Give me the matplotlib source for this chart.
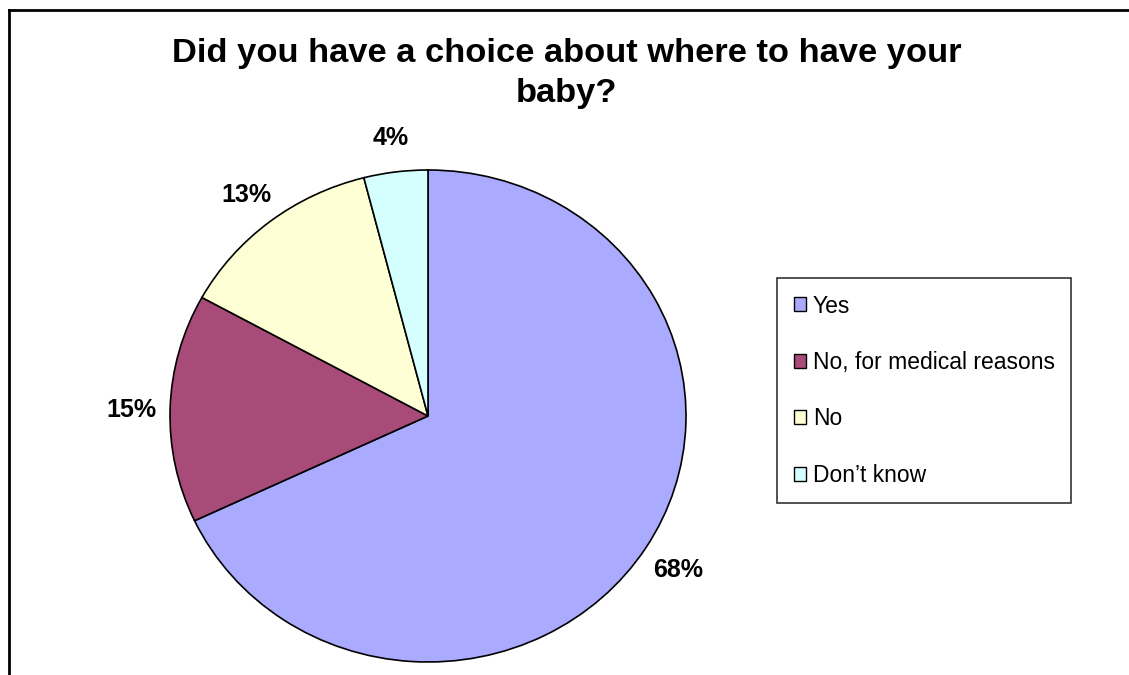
import matplotlib
matplotlib.use("Agg")
import matplotlib.pyplot as plt
from matplotlib.lines import Line2D
from matplotlib.patches import Rectangle

plt.rcParams['font.family'] = ['Liberation Sans', 'DejaVu Sans']

# data
categories = ["Yes", "No, for medical reasons", "No", "Don\u2019t know"]
values = [68, 15, 13, 4]
pct_labels = ["68%", "15%", "13%", "4%"]
colors = ["#AAAAFF", "#A84B78", "#FFFFD5", "#D5FFFF"]

W, H = 1129, 675
fig = plt.figure(figsize=(W / 100, H / 100), dpi=100)

# outer frame: top and left edges only
fig.add_artist(Line2D([9 / W, 1], [1 - 10 / H, 1 - 10 / H], color="black", lw=2, transform=fig.transFigure))
fig.add_artist(Line2D([9 / W, 9 / W], [0, 1 - 10 / H], color="black", lw=2, transform=fig.transFigure))

# pie axes (slightly elliptical like the original)
cx, cy, rx, ry = 428, 416, 258, 246
ax = fig.add_axes([(cx - rx) / W, 1 - (cy + ry) / H, 2 * rx / W, 2 * ry / H])
wedges, texts = ax.pie(values, labels=pct_labels, colors=colors, startangle=90,
                       counterclock=False, labeldistance=1.15,
                       wedgeprops=dict(edgecolor="black", linewidth=1.2),
                       textprops=dict(fontsize=18, fontweight="bold"))
for t in texts:
    t.set_ha("center")
    t.set_va("center_baseline")
ax.set_aspect("auto")
ax.set_xlim(-1, 1)
ax.set_ylim(-1, 1)
ax.axis("off")

fig.text(567 / W, 1 - 38 / H, "Did you have a choice about where to have your\nbaby?",
         ha="center", va="top", fontsize=24.8, fontweight="bold", linespacing=1.38)

handles = [Rectangle((0, 0), 1, 1, facecolor=c, edgecolor="black", lw=1) for c in colors]
leg = fig.legend(handles, categories, loc="upper left",
                 bbox_to_anchor=(777 / W, 1 - 278 / H), fontsize=16.5,
                 frameon=True, fancybox=False, handlelength=0.55, handleheight=0.55,
                 handletextpad=0.3, labelspacing=1.46, borderpad=0.72, borderaxespad=0)
leg.get_frame().set_edgecolor("black")
leg.get_frame().set_linewidth(1.2)

fig.savefig("out.png", dpi=100)
